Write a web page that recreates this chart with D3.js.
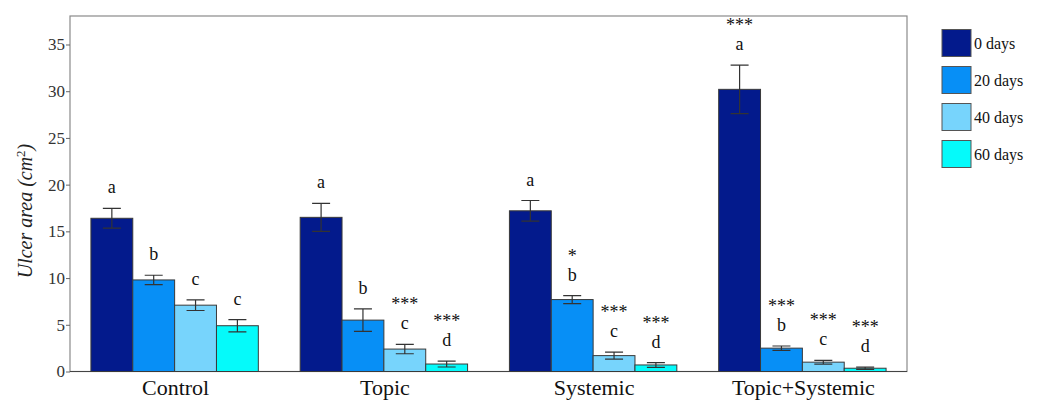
<!DOCTYPE html>
<html>
<head>
<meta charset="utf-8">
<script src="https://cdn.jsdelivr.net/npm/d3@7"></script>
<style>
  body { margin: 0; background: #fff; }
  text { font-family: 'Liberation Serif', 'Times New Roman', serif; }
</style>
</head>
<body>
<script>
const [W, H] = [1038, 401];
const M = { left: 70, top: 16, right: 907, bottom: 371.5 };

const groups = ['Control', 'Topic', 'Systemic', 'Topic+Systemic'];
const series = ['0 days', '20 days', '40 days', '60 days'];
const colors = ['#031a8c', '#078ff6', '#77d4fc', '#05fafa'];

// mean ulcer area per group, one value per series
const means = [
    [16.4, 9.8, 7.1, 4.9],
    [16.5, 5.5, 2.4, 0.8],
    [17.2, 7.7, 1.7, 0.7],
    [30.2, 2.5, 1.0, 0.35]
];
const errors = [
    [1.05, 0.5, 0.57, 0.65],
    [1.5, 1.2, 0.5, 0.32],
    [1.1, 0.43, 0.37, 0.25],
    [2.6, 0.23, 0.2, 0.12]
];
const letters = [
    ['a', 'b', 'c', 'c'],
    ['a', 'b', 'c', 'd'],
    ['a', 'b', 'c', 'd'],
    ['a', 'b', 'c', 'd']
];
const stars = [
    ['', '', '', ''],
    ['', '', '***', '***'],
    ['', '*', '***', '***'],
    ['***', '***', '***', '***']
];
const yTicks = [0, 5, 10, 15, 20, 25, 30, 35];

function main() {
    const svg = d3.select('body').append('svg')
        .attr('width', W).attr('height', H);

    const x0 = d3.scaleBand().domain(groups)
        .range([M.left, M.right])
        .paddingInner(0.2).paddingOuter(0.1);
    const x1 = d3.scaleBand().domain(series)
        .range([0, x0.bandwidth()]);
    const y = d3.scaleLinear().domain([0, 38.05])
        .range([M.bottom, M.top]);

    // frame
    svg.append('rect')
        .attr('x', M.left).attr('y', M.top)
        .attr('width', M.right - M.left).attr('height', M.bottom - M.top)
        .attr('fill', 'none').attr('stroke', '#8a8a8a').attr('stroke-width', 1.2);

    // y axis
    const yAxis = svg.append('g')
        .attr('transform', 'translate(' + M.left + ',0)')
        .call(d3.axisLeft(y).tickValues(yTicks).tickSize(4).tickPadding(1));
    yAxis.select('.domain').remove();
    yAxis.selectAll('line').attr('stroke', '#666');
    yAxis.selectAll('text')
        .style('font-family', "'Liberation Serif', serif")
        .style('font-size', '17px').attr('fill', '#333');

    const yTitle = svg.append('text')
        .attr('transform', 'translate(32,' + 211 + ') rotate(-90)')
        .attr('text-anchor', 'middle')
        .style('font-size', '20px')
        .style('font-style', 'italic')
        .attr('fill', '#222');
    yTitle.append('tspan').text('Ulcer area (cm');
    yTitle.append('tspan').text('2').attr('dy', -7).style('font-size', '13px').style('font-style', 'normal');
    yTitle.append('tspan').text(')').attr('dy', 7);

    // x baseline
    svg.append('line')
        .attr('x1', M.left).attr('x2', M.right)
        .attr('y1', M.bottom).attr('y2', M.bottom)
        .attr('stroke', '#444').attr('stroke-width', 1.2);

    // x labels
    svg.append('g').selectAll('text')
        .data(groups).enter()
        .append('text')
        .attr('x', d => x0(d) + x0.bandwidth() / 2 + 1)
        .attr('y', 395)
        .attr('text-anchor', 'middle')
        .style('font-size', '22px')
        .attr('fill', '#111')
        .text(d => d);

    // bars
    const cells = [];
    groups.forEach((g, gi) => series.forEach((s, si) => {
        cells.push({ g, s, si, v: means[gi][si], e: errors[gi][si], l: letters[gi][si], st: stars[gi][si] });
    }));

    const cell = svg.append('g').selectAll('g')
        .data(cells).enter()
        .append('g')
        .attr('transform', d => 'translate(' + (x0(d.g) + x1(d.s)) + ',0)');

    cell.append('rect')
        .attr('x', 0)
        .attr('y', d => y(d.v))
        .attr('width', x1.bandwidth())
        .attr('height', d => M.bottom - y(d.v))
        .attr('fill', (d) => colors[d.si])
        .attr('stroke', '#3a3a3a').attr('stroke-width', 1);

    const cx = x1.bandwidth() / 2;
    const cap = 9;
    cell.append('path')
        .attr('d', d => {
            const t = y(d.v + d.e), b = y(d.v - d.e);
            return 'M' + cx + ',' + t + 'V' + b +
                'M' + (cx - cap) + ',' + t + 'H' + (cx + cap) +
                'M' + (cx - cap) + ',' + b + 'H' + (cx + cap);
        })
        .attr('fill', 'none').attr('stroke', '#333').attr('stroke-width', 1.2);

    cell.append('text')
        .attr('x', cx)
        .attr('y', d => y(d.v + d.e) - 15)
        .attr('text-anchor', 'middle')
        .style('font-size', '18px')
        .attr('fill', '#111')
        .text(d => d.l);

    cell.append('text')
        .attr('x', cx)
        .attr('y', d => y(d.v + d.e) - 34)
        .attr('text-anchor', 'middle')
        .style('font-size', '18px')
        .attr('fill', '#111')
        .text(d => d.st);

    // legend
    const legend = svg.append('g').selectAll('g')
        .data(series).enter()
        .append('g')
        .attr('transform', (d, i) => 'translate(942,' + (29.5 + i * 37) + ')');

    legend.append('rect')
        .attr('width', 29).attr('height', 27)
        .attr('fill', (d, i) => colors[i])
        .attr('stroke', '#555').attr('stroke-width', 1);

    legend.append('text')
        .attr('x', 32).attr('y', 19)
        .style('font-size', '16px')
        .attr('fill', '#111')
        .text(d => d);
}

document.addEventListener('DOMContentLoaded', main);
</script>
</body>
</html>
